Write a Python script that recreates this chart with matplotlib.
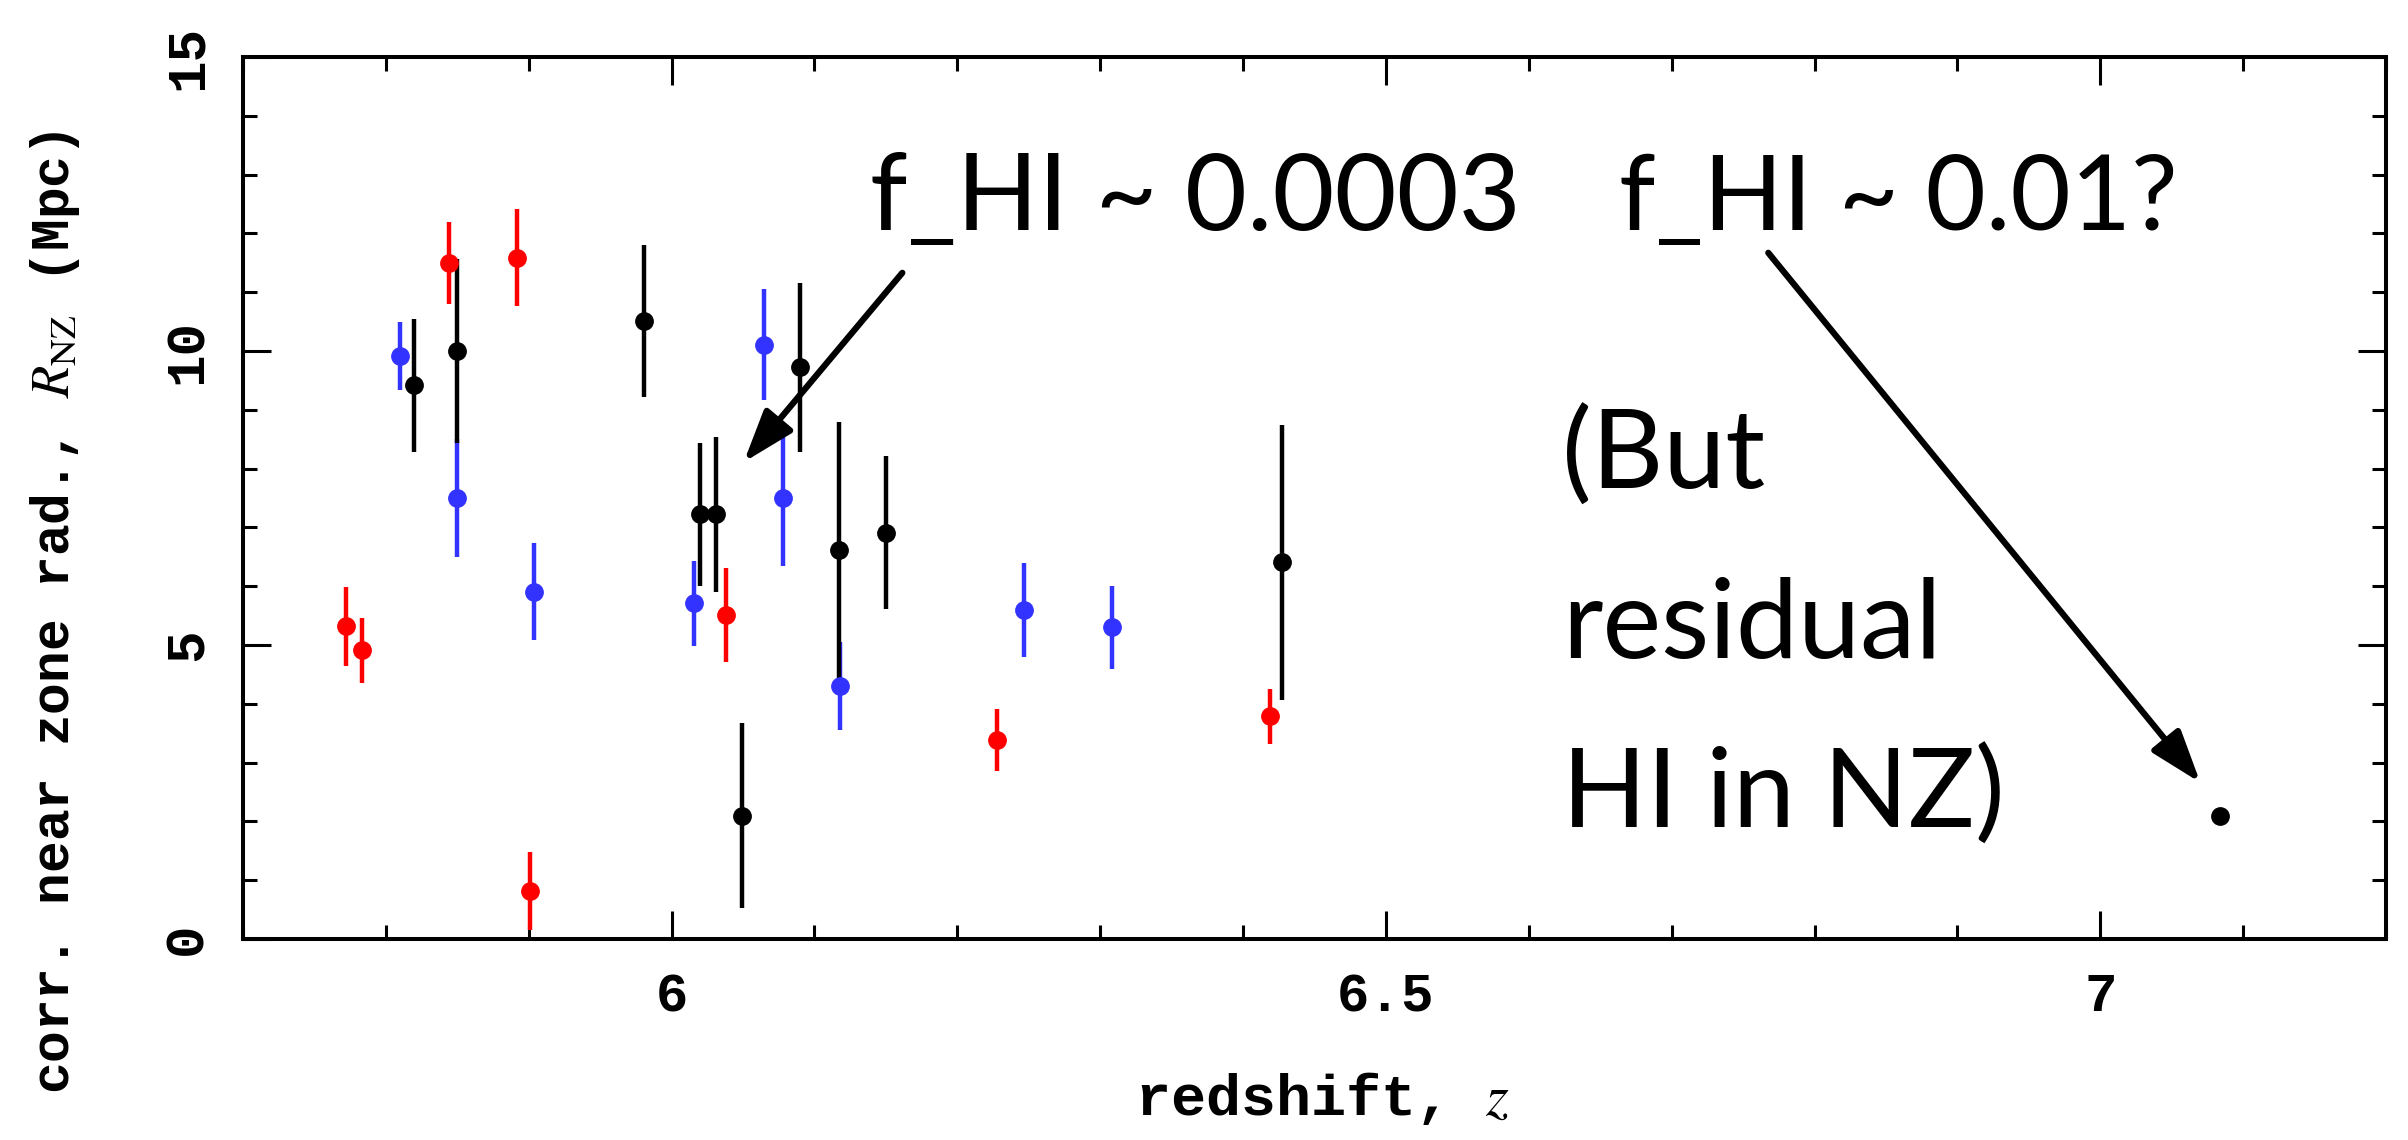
import matplotlib.pyplot as plt
from matplotlib.ticker import MultipleLocator, FixedLocator, FixedFormatter

# red sample
z_red = [5.772, 5.783, 5.844, 5.892, 5.901, 6.038, 6.228, 6.419]
r_red = [5.32, 4.91, 11.50, 11.59, 0.82, 5.51, 3.39, 3.79]
e_red = [0.67, 0.55, 0.70, 0.82, 0.66, 0.80, 0.53, 0.47]

# blue sample
z_blue = [5.810, 5.850, 5.904, 6.016, 6.065, 6.078, 6.118, 6.247, 6.308]
r_blue = [9.91, 7.50, 5.91, 5.71, 10.11, 7.50, 4.30, 5.60, 5.30]
e_blue = [0.58, 1.00, 0.82, 0.72, 0.95, 1.15, 0.75, 0.80, 0.70]

# black sample
z_black = [5.820, 5.850, 5.981, 6.020, 6.031, 6.049, 6.090, 6.1175, 6.150, 6.427]
r_black = [9.42, 10.00, 10.51, 7.22, 7.22, 2.10, 9.72, 6.61, 6.91, 6.41]
e_black = [1.13, 1.56, 1.30, 1.22, 1.31, 1.57, 1.43, 2.19, 1.30, 2.34]

# z = 7.08 quasar
z_far = [7.084]
r_far = [2.10]

x_ticks = [6, 6.5, 7]
x_ticklabels = ['6', '6.5', '7']
y_ticks = [0, 5, 10, 15]
y_ticklabels = ['0', '5', '10', '15']

plt.rcParams['mathtext.fontset'] = 'stix'
mono = 'Liberation Mono'
sans = 'Lato'

fig = plt.figure(figsize=(24.08, 11.40), dpi=100)
ax = fig.add_axes([0.1009, 0.1763, 0.89, 0.7737])

for z, r, e, c in [(z_red, r_red, e_red, '#ff0000'),
                   (z_blue, r_blue, e_blue, '#3333ff'),
                   (z_black, r_black, e_black, 'black')]:
    ax.errorbar(z, r, yerr=e, fmt='o', color=c, mec=c, ms=12.5,
                elinewidth=3.2, capsize=0)
ax.plot(z_far, r_far, 'o', color='black', ms=12.5)

ax.set_xlim(5.7, 7.2)
ax.set_ylim(0, 15)
ax.xaxis.set_major_locator(FixedLocator(x_ticks))
ax.xaxis.set_major_formatter(FixedFormatter(x_ticklabels))
ax.xaxis.set_minor_locator(MultipleLocator(0.1))
ax.yaxis.set_major_locator(FixedLocator(y_ticks))
ax.yaxis.set_major_formatter(FixedFormatter(y_ticklabels))
ax.yaxis.set_minor_locator(MultipleLocator(1))

ax.tick_params(which='both', direction='in', top=True, right=True, width=2.2)
ax.tick_params(which='major', length=20)
ax.tick_params(which='minor', length=10)
ax.tick_params(axis='x', pad=24)
ax.tick_params(axis='y', pad=22)
for spine in ax.spines.values():
    spine.set_linewidth(2.9)

for lab in ax.get_xticklabels():
    lab.set_family(mono)
    lab.set_weight('bold')
    lab.set_fontsize(39)
for lab in ax.get_yticklabels():
    lab.set_family(mono)
    lab.set_weight('bold')
    lab.set_fontsize(39)
    lab.set_rotation(90)
    lab.set_va('center')

ax.set_xlabel('redshift, $z$', family=mono, weight='bold', fontsize=42)
ax.set_ylabel(r'corr. near zone rad., $R_{\rm NZ}$ (Mpc)', family=mono,
              weight='bold', fontsize=38)
ax.xaxis.set_label_coords(0.5036, -0.148)
ax.yaxis.set_label_coords(-0.075, 0.37)

arrow = dict(arrowstyle='-|>,head_length=3.2,head_width=1.1', lw=4.5,
             color='black', shrinkA=0, shrinkB=0, mutation_scale=10)
ax.annotate('', xy=(6.0505, 8.11), xytext=(6.1615, 11.33), arrowprops=arrow)
ax.annotate('', xy=(7.070, 2.66), xytext=(6.7676, 11.67), arrowprops=arrow)

ax.text(6.139, 12.06, 'f_HI ~ 0.0003', family=sans, fontsize=77, va='baseline')
ax.text(6.663, 12.06, 'f_HI ~ 0.01?', family=sans, fontsize=75, va='baseline')
note_lines = ['(But', 'residual', 'HI in NZ)']
note_y = [7.66, 4.78, 1.89]
for line, y in zip(note_lines, note_y):
    ax.text(6.623, y, line, family=sans, fontsize=80, va='baseline')

fig.savefig('out.png', dpi=100)
